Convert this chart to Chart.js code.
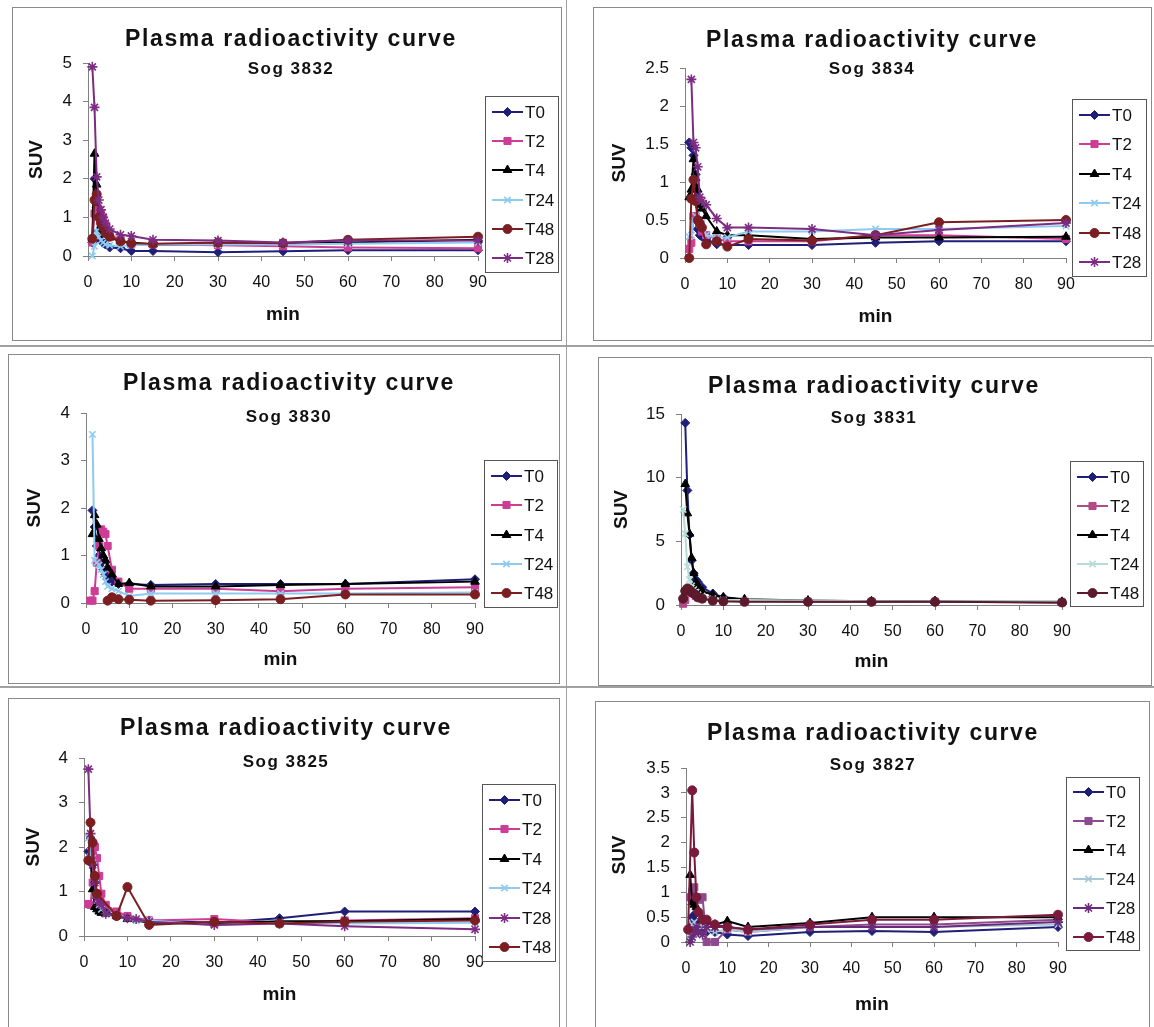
<!DOCTYPE html>
<html>
<head>
<meta charset="utf-8">
<title>Plasma radioactivity curves</title>
<script src="https://cdn.jsdelivr.net/npm/chart.js@4.4.1/dist/chart.umd.min.js"></script>
<style>
  html, body { margin: 0; padding: 0; background: #fff; }
  body { position: relative; width: 1154px; height: 1027px; overflow: hidden; }
  .panel { position: absolute; box-sizing: border-box; border: 1px solid #8a8a8a; background: #fff; }
  .panel canvas { display: block; }
  .rule { position: absolute; background: #a0a0a0; }
</style>
</head>
<body>
<div class="rule" style="left:0;top:345px;width:1154px;height:2px"></div>
<div class="rule" style="left:0;top:686px;width:1154px;height:2px"></div>
<div class="rule" style="left:566px;top:0;width:1px;height:1027px"></div>
<script>
// SUV values (x = minutes after injection)

// Sog 3832
const sog3832Min = [1, 1.5, 2, 2.5, 3, 3.5, 4, 5, 7.5, 10, 15, 30, 45, 60, 90];
const sog3832T0  = [0.35, 2.0, 1.25, 0.65, 0.4, 0.33, 0.3, 0.22, 0.2, 0.13, 0.13, 0.1, 0.12, 0.15, 0.15];
const sog3832T2  = [0.35, 1.1, 1.15, 1.2, 1.1, 1.0, 0.8, 0.55, 0.42, 0.3, 0.3, 0.28, 0.25, 0.22, 0.2];
const sog3832T4  = [0.45, 2.65, 1.85, 1.05, 0.8, 0.65, 0.55, 0.48, 0.38, 0.35, 0.3, 0.32, 0.32, 0.35, 0.42];
const sog3832T24 = [0.0, 0.25, 0.65, 0.5, 0.4, 0.35, 0.3, 0.28, 0.25, 0.28, 0.3, 0.3, 0.3, 0.32, 0.35];
const sog3832T48 = [0.45, 1.45, 1.6, 1.0, 0.85, 0.75, 0.6, 0.5, 0.38, 0.33, 0.32, 0.35, 0.33, 0.42, 0.5];
const sog3832T28 = [4.9, 3.85, 2.05, 1.45, 1.2, 1.0, 0.85, 0.7, 0.55, 0.52, 0.42, 0.4, 0.35, 0.4, 0.4];

// Sog 3834
const sog3834Min = [1, 1.5, 2, 2.5, 3, 3.5, 4, 5, 7.5, 10, 15, 30, 45, 60, 90];
const sog3834T0  = [1.52, 1.45, 1.35, 1.1, 0.38, 0.3, 0.28, 0.25, 0.18, 0.17, 0.17, 0.17, 0.2, 0.22, 0.22];
const sog3834T2  = [0.12, 0.2, 0.55, 0.55, 0.5, 0.45, 0.35, 0.3, 0.25, 0.22, 0.22, 0.22, 0.3, 0.3, 0.25];
const sog3834T4  = [0.8, 0.9, 1.3, 1.05, 0.9, 0.7, 0.65, 0.55, 0.35, 0.3, 0.3, 0.25, 0.27, 0.27, 0.28];
const sog3834T24 = [0.28, 0.3, 0.5, 0.55, 0.5, 0.45, 0.45, 0.3, 0.27, 0.27, 0.35, 0.35, 0.38, 0.38, 0.42];
const sog3834T48 = [0.0, 0.78, 1.03, 0.75, 0.5, 0.45, 0.4, 0.18, 0.22, 0.15, 0.25, 0.23, 0.3, 0.47, 0.5];
const sog3834T28 = [null, 2.35, 1.52, 1.45, 1.2, 0.8, 0.75, 0.7, 0.52, 0.4, 0.4, 0.38, 0.3, 0.37, 0.46];

// Sog 3830
const sog3830Min = [1, 1.5, 2, 2.5, 3, 3.5, 4, 4.5, 5, 6, 7.5, 10, 15, 30, 45, 60, 90];
const sog3830T0  = [null, 1.95, 1.6, 1.2, 1.0, 0.85, 0.7, 0.6, 0.5, 0.45, 0.4, 0.4, 0.38, 0.4, 0.4, 0.4, 0.5];
const sog3830T2  = [0.05, 0.05, 0.25, 0.85, 1.2, 1.55, 1.5, 1.45, 1.2, 0.7, 0.45, 0.3, 0.3, 0.3, 0.25, 0.3, 0.33];
const sog3830T4  = [null, 1.45, 1.85, 1.65, 1.35, 1.15, 1.0, 0.9, 0.75, 0.6, 0.4, 0.42, 0.35, 0.35, 0.38, 0.4, 0.45];
const sog3830T24 = [null, 3.55, 0.9, 0.85, 0.8, 0.7, 0.6, 0.45, 0.35, 0.3, 0.25, 0.15, 0.2, 0.2, 0.2, 0.2, 0.22];
const sog3830T48 = [null, null, null, null, null, null, null, null, 0.05, 0.12, 0.08, 0.07, 0.05, 0.06, 0.08, 0.18, 0.18];

// Sog 3831
const sog3831Min = [0.5, 1, 1.5, 2, 2.5, 3, 3.5, 4, 5, 7.5, 10, 15, 30, 45, 60, 90];
const sog3831T0  = [null, 14.3, 9.0, 5.5, 3.5, 2.5, 2.0, 1.8, 1.4, 0.9, 0.6, 0.4, 0.3, 0.25, 0.3, 0.2];
const sog3831T2  = [0.1, 0.4, 1.0, 1.2, 1.1, 0.9, 0.7, 0.6, 0.5, 0.35, 0.3, 0.3, 0.25, 0.25, 0.25, 0.2];
const sog3831T4  = [null, 9.5, 7.2, 5.6, 3.7, 2.5, 1.8, 1.5, 1.1, 0.8, 0.6, 0.45, 0.35, 0.3, 0.3, 0.25];
const sog3831T24 = [7.5, 5.6, 3.0, 2.0, 1.5, 1.2, 1.0, 0.8, 0.7, 0.5, 0.4, 0.4, 0.35, 0.3, 0.3, 0.3];
const sog3831T48 = [0.5, 1.1, 1.3, 1.2, 1.0, 0.9, 0.8, 0.6, 0.5, 0.35, 0.3, 0.25, 0.25, 0.25, 0.25, 0.2];

// Sog 3825
const sog3825Min = [1, 1.5, 2, 2.5, 3, 3.5, 4, 5, 7.5, 10, 12, 15, 30, 45, 60, 90];
const sog3825T0  = [1.9, 2.2, 1.6, 1.2, 0.95, 0.75, 0.65, 0.55, 0.45, 0.42, null, 0.35, 0.3, 0.4, 0.55, 0.55];
const sog3825T2  = [0.72, 0.7, 1.2, 2.0, 1.75, 1.35, 0.95, 0.7, 0.55, 0.45, null, 0.35, 0.38, 0.3, 0.35, 0.4];
const sog3825T4  = [null, 1.7, 1.05, 0.65, 0.6, 0.55, 0.52, 0.5, 0.45, 0.38, null, 0.3, 0.28, 0.33, 0.33, 0.38];
const sog3825T24 = [2.2, 1.9, 1.75, 1.2, 0.8, 0.7, 0.6, 0.5, 0.45, 0.4, 0.35, 0.35, 0.25, 0.3, 0.28, 0.3];
const sog3825T28 = [3.75, 2.3, 1.6, 1.2, 0.85, 0.75, 0.7, 0.5, 0.45, 0.4, 0.38, 0.32, 0.25, 0.28, 0.22, 0.15];
const sog3825T48 = [1.7, 2.55, 2.1, 1.35, 0.95, null, null, null, 0.45, 1.1, null, 0.25, 0.32, 0.28, 0.32, 0.35];

// Sog 3827
const sog3827Min = [0.5, 1, 1.5, 2, 2.5, 3, 4, 5, 7, 10, 15, 30, 45, 60, 90];
const sog3827T0  = [null, 0.3, 0.5, 0.55, 0.4, 0.3, 0.25, 0.2, 0.2, 0.15, 0.12, 0.2, 0.22, 0.2, 0.3];
const sog3827T2  = [null, 0.9, 1.0, 1.1, 0.9, 0.85, 0.9, 0.0, 0.0, 0.25, 0.2, 0.3, 0.35, 0.35, 0.45];
const sog3827T4  = [null, 1.35, 0.8, 0.75, 0.7, 0.6, 0.45, 0.4, 0.35, 0.42, 0.3, 0.38, 0.5, 0.5, 0.5];
const sog3827T24 = [null, 0.1, 0.35, 0.4, 0.3, 0.25, 0.3, 0.25, 0.2, 0.25, 0.2, 0.3, 0.3, 0.3, 0.35];
const sog3827T28 = [null, 0.0, 0.1, 0.2, 0.3, 0.2, 0.15, 0.3, 0.3, 0.3, 0.25, 0.3, 0.3, 0.3, 0.4];
const sog3827T48 = [0.25, null, 3.05, 1.8, 0.9, 0.6, 0.45, 0.45, 0.35, 0.3, 0.25, 0.35, 0.45, 0.45, 0.55];

const FONT = '"Liberation Sans", Arial, Helvetica, sans-serif';
const TITLE = 'Plasma radioactivity curve';

const look = {
  T0:  { color: '#1f1f7a', marker: 'rectRot',  r: 4.5 },
  T2:  { color: '#cc3d96', marker: 'rect',     r: 5 },
  T4:  { color: '#000000', marker: 'triangle', r: 5 },
  T24: { color: '#8ecbef', marker: 'crossRot', r: 4.5 },
  T48: { color: '#7b1e22', marker: 'circle',   r: 4.5 },
  T28: { color: '#7c2c82', marker: 'star',     r: 5 }
};

// page coordinates: box / plot area / legend = [left, top, right, bottom]
const panels = [
  { sub: 'Sog 3832', box: [12, 7, 562, 341], area: [88, 63, 478, 256], legend: [485, 96, 558, 272],
    titleX: 291, titleBase: 46, subBase: 74, suvX: 37, minY: 315, yMax: 5, yStep: 1, times: sog3832Min,
    series: [['T0', sog3832T0], ['T2', sog3832T2], ['T4', sog3832T4], ['T24', sog3832T24], ['T48', sog3832T48], ['T28', sog3832T28]] },
  { sub: 'Sog 3834', box: [593, 7, 1152, 341], area: [685, 68, 1066, 258], legend: [1072, 99, 1146, 276],
    titleX: 872, titleBase: 47, subBase: 74, suvX: 620, minY: 317, yMax: 2.5, yStep: 0.5, times: sog3834Min,
    series: [['T0', sog3834T0], ['T2', sog3834T2], ['T4', sog3834T4], ['T24', sog3834T24], ['T48', sog3834T48], ['T28', sog3834T28]] },
  { sub: 'Sog 3830', box: [8, 354, 560, 684], area: [86, 413, 475, 603], legend: [484, 460, 557, 607],
    titleX: 289, titleBase: 390, subBase: 422, suvX: 35, minY: 660, yMax: 4, yStep: 1, times: sog3830Min,
    series: [['T0', sog3830T0], ['T2', sog3830T2], ['T4', sog3830T4], ['T24', sog3830T24], ['T48', sog3830T48]] },
  { sub: 'Sog 3831', box: [598, 357, 1152, 686], area: [681, 414, 1062, 605], legend: [1070, 461, 1143, 606],
    titleX: 874, titleBase: 393, subBase: 423, suvX: 622, minY: 662, yMax: 15, yStep: 5, times: sog3831Min,
    colors: { T2: '#b24a86', T24: '#b6dcd6', T48: '#5c1a2c' },
    series: [['T0', sog3831T0], ['T2', sog3831T2], ['T4', sog3831T4], ['T24', sog3831T24], ['T48', sog3831T48]] },
  { sub: 'Sog 3825', box: [8, 698, 560, 1030], area: [84, 758, 475, 936], legend: [482, 784, 555, 961],
    titleX: 286, titleBase: 735, subBase: 767, suvX: 34, minY: 995, yMax: 4, yStep: 1, times: sog3825Min,
    series: [['T0', sog3825T0], ['T2', sog3825T2], ['T4', sog3825T4], ['T24', sog3825T24], ['T28', sog3825T28], ['T48', sog3825T48]] },
  { sub: 'Sog 3827', box: [595, 701, 1150, 1030], area: [686, 768, 1058, 942], legend: [1066, 777, 1139, 950],
    titleX: 873, titleBase: 740, subBase: 770, suvX: 620, minY: 1005, yMax: 3.5, yStep: 0.5, times: sog3827Min,
    colors: { T2: '#8e4a8e', T24: '#a8c8d8', T28: '#6a2a7a', T48: '#7a1a3a' },
    series: [['T0', sog3827T0], ['T2', sog3827T2], ['T4', sog3827T4], ['T24', sog3827T24], ['T28', sog3827T28], ['T48', sog3827T48]] }
];

// excel-like title, subtitle and boxed legend with line+marker samples
const deco = {
  id: 'deco',
  afterDraw(chart, args, o) {
    const ctx = chart.ctx;
    ctx.save();
    ctx.fillStyle = '#111';
    ctx.textAlign = 'center';
    ctx.textBaseline = 'alphabetic';
    ctx.font = 'bold 23px ' + FONT;
    ctx.letterSpacing = '1.6px';
    ctx.fillText(TITLE, o.titleX, o.titleBase);
    ctx.font = 'bold 17px ' + FONT;
    ctx.letterSpacing = '1.5px';
    ctx.fillText(o.sub, o.titleX, o.subBase);
    ctx.letterSpacing = '0px';

    const [l, t, r, b] = o.legend;
    ctx.fillStyle = '#fff';
    ctx.fillRect(l, t, r - l, b - t);
    ctx.strokeStyle = '#555';
    ctx.lineWidth = 1;
    ctx.strokeRect(l + 0.5, t + 0.5, r - l, b - t);
    const sets = chart.data.datasets;
    const step = (b - t) / sets.length;
    sets.forEach((ds, i) => {
      const y = Math.round(t + step * (i + 0.5)) + 1;
      ctx.strokeStyle = ds.borderColor;
      ctx.lineWidth = 2;
      ctx.beginPath();
      ctx.moveTo(l + 7, y);
      ctx.lineTo(l + 38, y);
      ctx.stroke();
      ctx.fillStyle = ds.pointBackgroundColor;
      ctx.strokeStyle = ds.pointBorderColor;
      ctx.lineWidth = ds.pointBorderWidth;
      Chart.helpers.drawPoint(ctx, { pointStyle: ds.pointStyle, radius: ds.pointRadius, borderWidth: ds.pointBorderWidth, rotation: 0 }, l + 22.5, y);
      ctx.fillStyle = '#111';
      ctx.font = '17px ' + FONT;
      ctx.textAlign = 'left';
      ctx.textBaseline = 'middle';
      ctx.fillText(ds.label, l + 40, y + 1);
    });
    ctx.restore();
  }
};

panels.forEach(p => {
  const [bl, bt, br, bb] = p.box;
  const ox = bl + 1, oy = bt + 1;
  const W = br - bl - 2, H = bb - bt - 2;
  const wrap = document.createElement('div');
  wrap.className = 'panel';
  wrap.style.left = bl + 'px';
  wrap.style.top = bt + 'px';
  wrap.style.width = (br - bl) + 'px';
  wrap.style.height = (bb - bt) + 'px';
  const canvas = document.createElement('canvas');
  canvas.width = W;
  canvas.height = H;
  wrap.appendChild(canvas);
  document.body.appendChild(wrap);

  const [al, at, ar, ab] = p.area;
  const yAxisW = al - ox;
  const xAxisH = (p.minY - ab) + 19 * 1.2 / 2;
  const n = p.series.length;

  const datasets = p.series.map(([label, vals], i) => {
    const st = look[label];
    const color = (p.colors && p.colors[label]) || st.color;
    const open = st.marker === 'crossRot' || st.marker === 'star';
    return {
      label,
      data: p.times.map((t, k) => ({ x: t, y: vals[k] })).filter(d => d.y !== null),
      borderColor: color,
      backgroundColor: color,
      borderWidth: 2,
      pointStyle: st.marker,
      pointRadius: st.r,
      pointBackgroundColor: color,
      pointBorderColor: color,
      pointBorderWidth: open ? 1.6 : 1,
      tension: 0,
      clip: false,
      order: n - i
    };
  });

  new Chart(canvas, {
    type: 'line',
    data: { datasets },
    plugins: [deco],
    options: {
      responsive: false,
      animation: false,
      spanGaps: true,
      layout: { padding: { left: 0, top: at - oy, right: W - (ar - ox), bottom: H - (ab - oy) - xAxisH } },
      plugins: {
        legend: { display: false },
        tooltip: { enabled: false },
        deco: {
          sub: p.sub, titleX: p.titleX - ox, titleBase: p.titleBase - oy, subBase: p.subBase - oy,
          legend: [p.legend[0] - ox, p.legend[1] - oy, p.legend[2] - ox, p.legend[3] - oy]
        }
      },
      scales: {
        x: {
          type: 'linear', min: 0, max: 90,
          ticks: { stepSize: 10, color: '#111', font: { family: FONT, size: 16 }, padding: 12, maxRotation: 0, autoSkip: false },
          grid: { drawOnChartArea: false, drawTicks: true, tickLength: 5, color: '#808080' },
          border: { color: '#808080', width: 1 },
          title: { display: true, text: 'min', color: '#111', font: { family: FONT, size: 19, weight: 'bold' }, padding: 0 },
          afterFit: s => { s.height = xAxisH; }
        },
        y: {
          min: 0, max: p.yMax,
          ticks: { stepSize: p.yStep, color: '#111', font: { family: FONT, size: 17 }, padding: 11,
                   callback: v => String(+v.toFixed(2)) },
          grid: { drawOnChartArea: false, drawTicks: true, tickLength: 5, color: '#808080' },
          border: { color: '#808080', width: 1 },
          title: { display: true, text: 'SUV', color: '#111', font: { family: FONT, size: 19, weight: 'bold' },
                   padding: { top: p.suvX - ox - 11.4, bottom: 0 } },
          afterFit: s => { s.width = yAxisW; }
        }
      }
    }
  });
});
</script>
</body>
</html>
